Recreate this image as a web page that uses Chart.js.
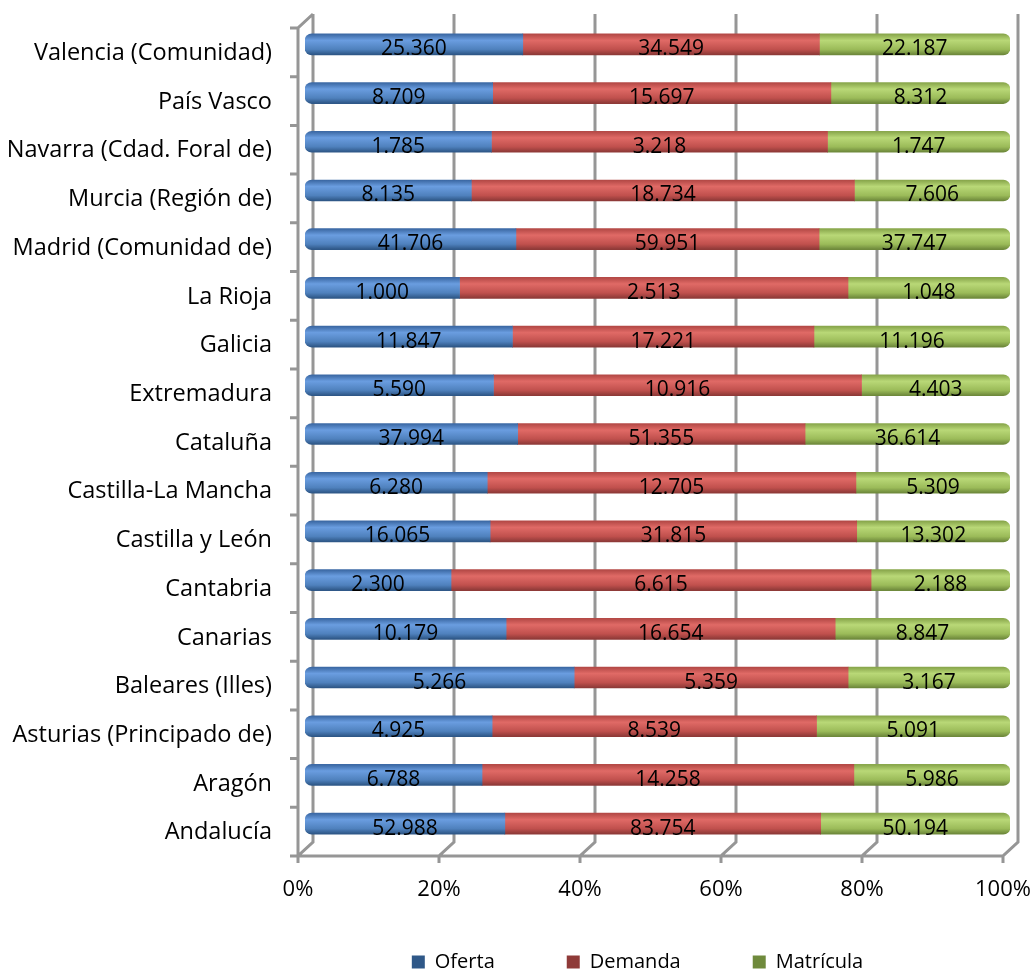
<!DOCTYPE html>
<html>
<head>
<meta charset="utf-8">
<script src="https://cdn.jsdelivr.net/npm/chart.js@4"></script>
<style>
  html, body { margin: 0; padding: 0; background: #fff; }
  #wrap { width: 1034px; height: 974px; }
</style>
</head>
<body>
<div id="wrap"><canvas id="regionChart"></canvas></div>
<script>
const regions = ["Andalucía", "Aragón", "Asturias (Principado de)", "Baleares (Illes)", "Canarias",
  "Cantabria", "Castilla y León", "Castilla-La Mancha", "Cataluña", "Extremadura", "Galicia",
  "La Rioja", "Madrid (Comunidad de)", "Murcia (Región de)", "Navarra (Cdad. Foral de)",
  "País Vasco", "Valencia (Comunidad)"];
const oferta = [52988, 6788, 4925, 5266, 10179, 2300, 16065, 6280, 37994, 5590, 11847, 1000, 41706, 8135, 1785, 8709, 25360];
const demanda = [83754, 14258, 8539, 5359, 16654, 6615, 31815, 12705, 51355, 10916, 17221, 2513, 59951, 18734, 3218, 15697, 34549];
const matricula = [50194, 5986, 5091, 3167, 8847, 2188, 13302, 5309, 36614, 4403, 11196, 1048, 37747, 7606, 1747, 8312, 22187];
const xTicks = [0, 20, 40, 60, 80, 100];

const FONT = "'Open Sans'";
const series = [oferta, demanda, matricula];
const totals = regions.map((r, i) => oferta[i] + demanda[i] + matricula[i]);
const pct = arr => arr.map((v, i) => v / totals[i] * 100);
const fmt = v => v.toString().replace(/\B(?=(\d{3})+(?!\d))/g, ".");

const shades = {
  blue:  ["#3d6aa6", "#6a9de0", "#4f81bd", "#2f5888"],
  red:   ["#b54a47", "#e06a66", "#c0504d", "#8f3a38"],
  green: ["#8aa84d", "#b9d877", "#9bbb59", "#6f8a3c"]
};

function barFill(key) {
  return function (ctx) {
    const s = shades[key];
    const chart = ctx.chart;
    const y = chart.scales.y;
    if (!y || ctx.type !== "data") return s[2];
    const cy = y.getPixelForValue(ctx.dataIndex);
    if (!isFinite(cy)) return s[2];
    const g = chart.ctx.createLinearGradient(0, cy - 10, 0, cy + 10);
    g.addColorStop(0, s[0]);
    g.addColorStop(0.3, s[1]);
    g.addColorStop(0.75, s[2]);
    g.addColorStop(1, s[3]);
    return g;
  };
}

// 3D-style walls and gridlines behind the bars
const frame3d = {
  id: "frame3d",
  afterLayout(chart) {
    // nudge the legend a little left, as in the original
    if (chart.legend) { chart.legend.left -= 20; chart.legend.right -= 20; }
    // let the % labels sit lower without being clipped
    chart.scales.x.bottom += 40;
  },
  beforeDatasetsDraw(chart) {
    const {ctx, chartArea: a, scales: {x}} = chart;
    const fdx = -7, fdy = 8, bdx = 8, bdy = -6;
    ctx.save();
    ctx.strokeStyle = "#969696";
    ctx.lineWidth = 3;
    ctx.beginPath();
    xTicks.forEach(v => {
      const px = x.getPixelForValue(v);
      ctx.moveTo(px + bdx, a.top + bdy);
      ctx.lineTo(px + bdx, a.bottom + bdy);
      ctx.lineTo(px + fdx, a.bottom + fdy);
      ctx.lineTo(px + fdx, a.bottom + fdy + 7);
    });
    const x0 = x.getPixelForValue(0);
    ctx.moveTo(x0 + bdx, a.top + bdy);
    ctx.lineTo(x0 + fdx, a.top + fdy);
    ctx.lineTo(x0 + fdx, a.bottom + fdy);
    ctx.lineTo(x.getPixelForValue(100) + fdx, a.bottom + fdy);
    const step = (a.bottom - a.top) / regions.length;
    for (let i = 0; i <= regions.length; i++) {
      const py = a.top + i * step + fdy;
      ctx.moveTo(x0 + fdx - 8, py);
      ctx.lineTo(x0 + fdx, py);
    }
    ctx.stroke();
    ctx.restore();
  }
};

const valueLabels = {
  id: "valueLabels",
  afterDatasetsDraw(chart) {
    const ctx = chart.ctx;
    ctx.save();
    ctx.font = "21px " + FONT;
    ctx.fillStyle = "#000";
    ctx.textAlign = "center";
    ctx.textBaseline = "middle";
    chart.data.datasets.forEach((ds, di) => {
      chart.getDatasetMeta(di).data.forEach((bar, i) => {
        const p = bar.getProps(["x", "y", "base"], true);
        ctx.fillText(fmt(series[di][i]), (p.x + p.base) / 2, p.y + 5);
      });
    });
    ctx.restore();
  }
};

new Chart(document.getElementById("regionChart"), {
  type: "bar",
  data: {
    labels: regions,
    datasets: [
      { label: "Oferta", data: pct(oferta), backgroundColor: barFill("blue"),
        borderRadius: {topLeft: 7, bottomLeft: 7}, borderSkipped: false },
      { label: "Demanda", data: pct(demanda), backgroundColor: barFill("red"), borderSkipped: false },
      { label: "Matrícula", data: pct(matricula), backgroundColor: barFill("green"),
        borderRadius: {topRight: 7, bottomRight: 7}, borderSkipped: false }
    ]
  },
  options: {
    indexAxis: "y",
    responsive: true,
    maintainAspectRatio: false,
    animation: false,
    barThickness: 21,
    layout: { padding: { top: 20, right: 24, bottom: -8, left: 0 } },
    scales: {
      x: {
        stacked: true, min: 0, max: 100,
        grid: { display: false, drawTicks: false },
        border: { display: false },
        afterFit: s => { s.height = 32; s.paddingLeft = 0; s.paddingRight = 0; },
        afterBuildTicks: s => { s.ticks = xTicks.map(v => ({ value: v })); },
        ticks: {
          color: "#000", padding: 29, labelOffset: -7,
          font: { family: "Open Sans", size: 22 },
          callback: v => v + "%"
        }
      },
      y: {
        stacked: true, reverse: true,
        grid: { display: false, drawTicks: false },
        border: { display: false },
        afterFit: s => { s.width = 305; s.paddingTop = 0; s.paddingBottom = 0; },
        ticks: { color: "#000", padding: 33, labelOffset: 9, font: { family: "Open Sans", size: 23.5 } }
      }
    },
    plugins: {
      tooltip: { enabled: false },
      legend: {
        position: "bottom",
        fullSize: false,
        labels: { color: "#000", boxWidth: 13, boxHeight: 13, padding: 72,
          font: { family: "Open Sans", size: 20 } }
      }
    }
  },
  plugins: [frame3d, valueLabels]
});
</script>
</body>
</html>
